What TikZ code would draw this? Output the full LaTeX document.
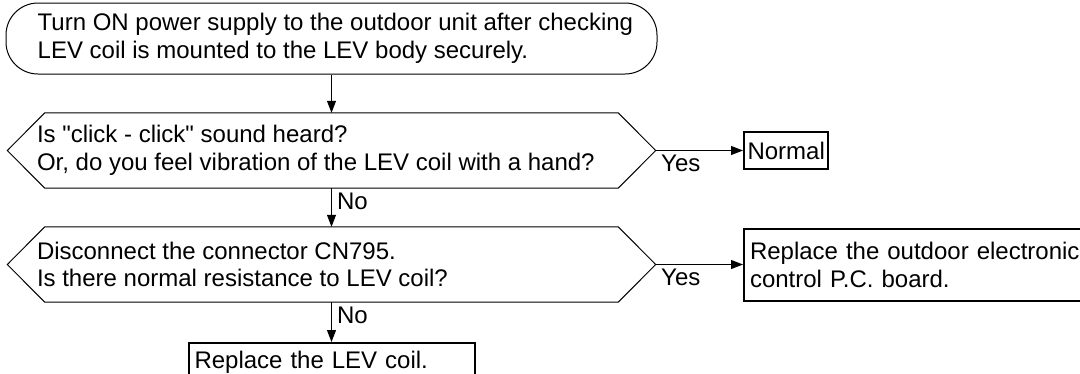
\documentclass[tikz,border=0pt]{standalone}
\usepackage{fontspec}
\setmainfont{Liberation Sans}
\usepackage{tikz}
\usetikzlibrary{arrows.meta}
\newcommand\decisionframe[1]{%
  \draw[frameline] (#1.west) -- ([xshift=37.5pt]#1.north west) -- ([xshift=-37.5pt]#1.north east)
    -- (#1.east) -- ([xshift=-37.5pt]#1.south east) -- ([xshift=37.5pt]#1.south west) -- cycle;}

\begin{document}
\begin{tikzpicture}[x=1pt, y=-1pt,
  every node/.style={font=\fontsize{24}{27.5}\selectfont},
  frameline/.style={line width=1pt},
  flow/.style={line width=1pt, -{Triangle[length=12pt,width=9pt]}},
  resultbox/.style={draw, line width=2pt, inner xsep=6pt, align=left},
  shapebox/.style={minimum width=648pt, minimum height=75pt, inner sep=0pt},
  txt/.style={anchor=west, inner sep=0pt, align=left},
  answer/.style={pos=0, anchor=north west, inner xsep=5pt, inner ysep=4pt}]
  \useasboundingbox (0,0) rectangle (1080,373);
  \fill[white] (0,0) rectangle (1080,373);
  % start
  \node[draw, frameline, rounded corners=32pt, minimum width=651pt, minimum height=71pt, inner sep=0pt] (start) at (331.5,38.5) {};
  \node[txt] (starttext) at ([xshift=32pt]start.west) {Turn ON power supply to the outdoor unit after checking\\LEV coil is mounted to the LEV body securely.};
  % decisions
  \node[shapebox] (q1) at (331.5,150.5) {};
  \decisionframe{q1}
  \node[txt] (q1text) at ([xshift=29.5pt]q1.west) {Is \textquotedbl click - click\textquotedbl{} sound heard?\\Or, do you feel vibration of the LEV coil with a hand?};
  \node[shapebox] (q2) at (331.5,264.5) {};
  \decisionframe{q2}
  \node[txt] (q2text) at ([xshift=29.5pt]q2.west) {Disconnect the connector CN795.\\Is there normal resistance to LEV coil?};
  % results
  \node[resultbox, anchor=west, inner xsep=3.5pt, minimum height=37pt] (normal) at (743,150.5) {Normal};
  \node[resultbox, anchor=north west, text width=340pt, minimum height=72pt] (pcb) at (743,228) {Replace the outdoor electronic\\control P.C. board.};
  \node[resultbox, anchor=north, text width=274pt, minimum height=38pt] (levcoil) at (331.5,342) {Replace the LEV coil.};
  % connectors
  \draw[flow] (start.south) -- (q1.north);
  \draw[flow] (q1.east) -- node[answer] {Yes} (normal.west);
  \draw[flow] (q1.south) -- node[answer] {No} (q2.north);
  \draw[flow] (q2.east) -- node[answer] {Yes} (q2.east -| pcb.west);
  \draw[flow] (q2.south) -- node[answer] {No} (levcoil.north);
\end{tikzpicture}
\end{document}
